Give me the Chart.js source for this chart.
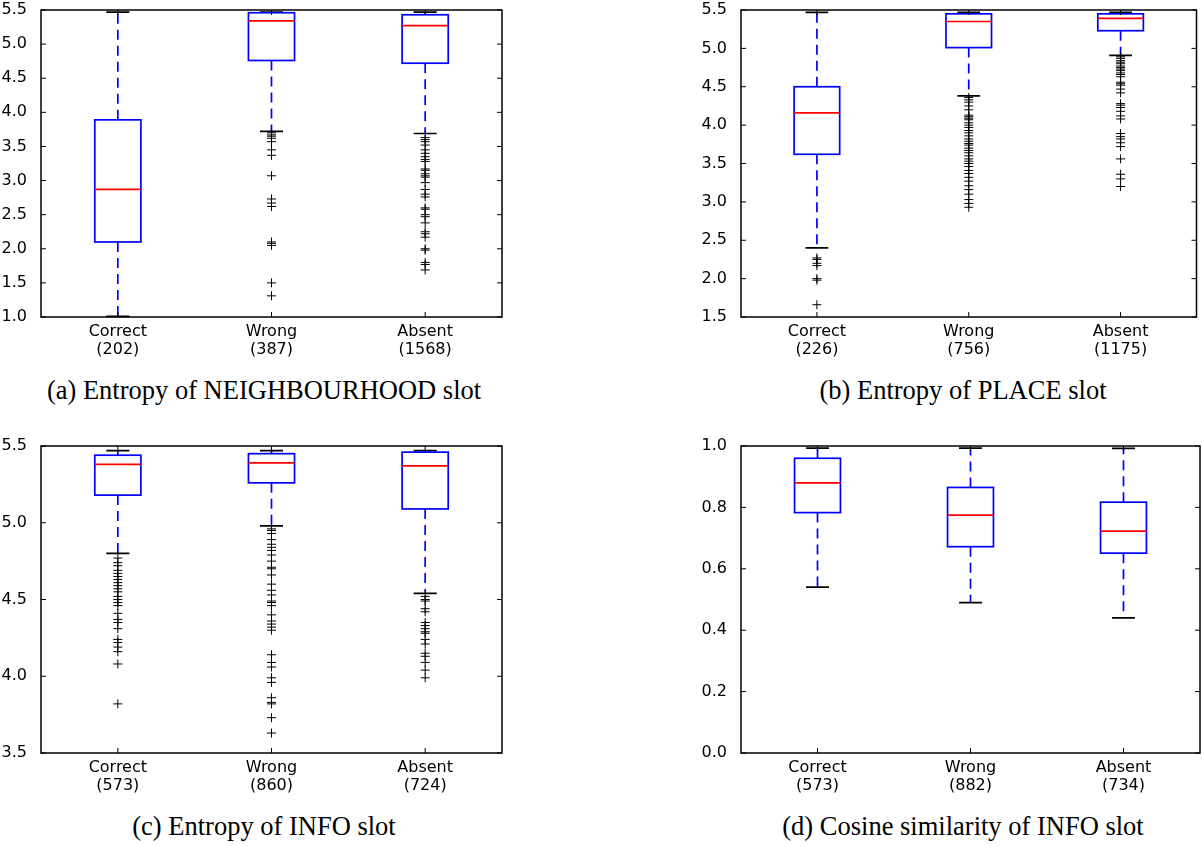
<!DOCTYPE html>
<html>
<head>
<meta charset="utf-8">
<script src="https://cdn.jsdelivr.net/npm/chart.js@4.4.1/dist/chart.umd.min.js"></script>
<style>
    body { margin: 0; background: #fff; }
    #page { position: relative; width: 1202px; height: 846px; overflow: hidden; }
    .panel { position: absolute; }
    .caption {
        position: absolute;
        width: 600px;
        text-align: center;
        font-family: "Liberation Serif", "DejaVu Serif", serif;
        font-size: 26.5px;
        line-height: 30px;
        color: #000;
        white-space: nowrap;
    }
</style>
</head>
<body>
<div id="page">
    <div class="panel" style="left:0px;top:0px;width:590px;height:372px;"><canvas id="chartA"></canvas></div>
    <div class="panel" style="left:600px;top:0px;width:602px;height:372px;"><canvas id="chartB"></canvas></div>
    <div class="panel" style="left:0px;top:436px;width:590px;height:372px;"><canvas id="chartC"></canvas></div>
    <div class="panel" style="left:600px;top:436px;width:602px;height:372px;"><canvas id="chartD"></canvas></div>
    <div class="caption" style="left:-36px;top:375px;">(a) Entropy of NEIGHBOURHOOD slot</div>
    <div class="caption" style="left:663px;top:375px;">(b) Entropy of PLACE slot</div>
    <div class="caption" style="left:-36px;top:811px;">(c) Entropy of INFO slot</div>
    <div class="caption" style="left:663px;top:811px;">(d) Cosine similarity of INFO slot</div>
</div>
<script>
const categories = ['Correct', 'Wrong', 'Absent'];

// (a) Entropy of NEIGHBOURHOOD slot
const nbCounts = [202, 387, 1568];
const nbLow = [1.01, 3.72, 3.69];
const nbQ1 = [2.10, 4.76, 4.72];
const nbMed = [2.87, 5.34, 5.27];
const nbQ3 = [3.89, 5.46, 5.43];
const nbHigh = [5.47, 5.47, 5.47];
const nbOutCorrect = [];
const nbOutWrong = [3.70, 3.67, 3.65, 3.62, 3.57, 3.45, 3.37, 3.07, 2.73, 2.67, 2.62, 2.10, 2.08, 2.05, 1.50, 1.31];
const nbOutAbsent = [3.63, 3.60, 3.57, 3.52, 3.45, 3.40, 3.35, 3.31, 3.28, 3.17, 3.15, 3.10, 3.07, 3.05, 2.97, 2.87,
    2.80, 2.76, 2.60, 2.58, 2.50, 2.47, 2.38, 2.25, 2.22, 2.17, 2.00, 1.98, 1.80, 1.77, 1.69];

// (b) Entropy of PLACE slot
const plCounts = [226, 756, 1175];
const plLow = [2.40, 4.38, 4.91];
const plQ1 = [3.62, 5.01, 5.23];
const plMed = [4.16, 5.35, 5.39];
const plQ3 = [4.50, 5.45, 5.45];
const plHigh = [5.47, 5.47, 5.47];
const plOutCorrect = [2.27, 2.25, 2.20, 2.17, 2.00, 1.98, 1.66];
const plOutWrong = [4.36, 4.33, 4.30, 4.25, 4.20, 4.13, 4.11, 4.09, 4.07, 4.03, 4.00, 3.97, 3.93, 3.90, 3.86, 3.82,
    3.79, 3.76, 3.74, 3.70, 3.67, 3.64, 3.60, 3.56, 3.53, 3.50, 3.46, 3.41, 3.37, 3.32, 3.27, 3.21, 3.16, 3.10,
    3.03, 2.98, 2.93];
const plOutAbsent = [4.89, 4.87, 4.84, 4.82, 4.80, 4.77, 4.75, 4.73, 4.71, 4.68, 4.66, 4.63, 4.56, 4.54, 4.52, 4.47,
    4.42, 4.28, 4.26, 4.23, 4.18, 4.12, 4.08, 3.89, 3.85, 3.82, 3.77, 3.72, 3.56, 3.36, 3.30, 3.20];

// (c) Entropy of INFO slot
const infCounts = [573, 860, 724];
const infLow = [4.80, 4.98, 4.54];
const infQ1 = [5.18, 5.26, 5.09];
const infMed = [5.38, 5.39, 5.37];
const infQ3 = [5.44, 5.45, 5.46];
const infHigh = [5.47, 5.47, 5.47];
const infOutCorrect = [4.77, 4.74, 4.72, 4.69, 4.67, 4.65, 4.63, 4.61, 4.59, 4.57, 4.55, 4.52, 4.50, 4.48, 4.46,
    4.41, 4.37, 4.35, 4.31, 4.24, 4.22, 4.19, 4.16, 4.08, 3.82];
const infOutWrong = [4.96, 4.95, 4.93, 4.89, 4.86, 4.84, 4.82, 4.79, 4.75, 4.71, 4.70, 4.66, 4.60, 4.56, 4.53, 4.49,
    4.48, 4.46, 4.40, 4.36, 4.34, 4.32, 4.30, 4.14, 4.09, 4.06, 3.99, 3.96, 3.86, 3.83, 3.82, 3.73, 3.63];
const infOutAbsent = [4.52, 4.50, 4.49, 4.44, 4.42, 4.35, 4.33, 4.31, 4.29, 4.28, 4.24, 4.21, 4.15, 4.13, 4.09,
    4.04, 3.99];

// (d) Cosine similarity of INFO slot
const cosCounts = [573, 882, 734];
const cosLow = [0.54, 0.49, 0.44];
const cosQ1 = [0.783, 0.672, 0.651];
const cosMed = [0.880, 0.775, 0.723];
const cosQ3 = [0.960, 0.865, 0.817];
const cosHigh = [0.993, 0.993, 0.992];

Chart.defaults.font.family = 'DejaVu Sans';
Chart.defaults.font.size = 16;
Chart.defaults.color = '#000';

// draws boxes, whiskers and caps with the chart's own scales, plus a matplotlib style frame
const boxPlugin = {
    id: 'boxes',
    beforeDatasetsDraw(chart, args, opts) {
        const ctx = chart.ctx;
        const x = chart.scales.x;
        const y = chart.scales.y;
        const half = x.getPixelForValue(1.15) - x.getPixelForValue(1);
        ctx.save();
        ctx.lineWidth = 1.7;
        opts.med.forEach(function(m, i) {
            const cx = x.getPixelForValue(i + 1);
            const yLow = y.getPixelForValue(opts.low[i]);
            const yQ1 = y.getPixelForValue(opts.q1[i]);
            const yMed = y.getPixelForValue(m);
            const yQ3 = y.getPixelForValue(opts.q3[i]);
            const yHigh = y.getPixelForValue(opts.high[i]);

            // whiskers
            ctx.strokeStyle = '#0000ff';
            ctx.setLineDash([10, 6]);
            ctx.beginPath();
            ctx.moveTo(cx, yQ1); ctx.lineTo(cx, yLow);
            ctx.moveTo(cx, yQ3); ctx.lineTo(cx, yHigh);
            ctx.stroke();
            ctx.setLineDash([]);

            // caps
            ctx.strokeStyle = '#000';
            ctx.beginPath();
            ctx.moveTo(cx - half / 2, yLow); ctx.lineTo(cx + half / 2, yLow);
            ctx.moveTo(cx - half / 2, yHigh); ctx.lineTo(cx + half / 2, yHigh);
            ctx.stroke();

            // box
            ctx.strokeStyle = '#0000ff';
            ctx.strokeRect(cx - half, yQ3, half * 2, yQ1 - yQ3);

            // median
            ctx.strokeStyle = '#ff0000';
            ctx.beginPath();
            ctx.moveTo(cx - half, yMed); ctx.lineTo(cx + half, yMed);
            ctx.stroke();
        });
        ctx.restore();
    },
    afterDraw(chart) {
        const ctx = chart.ctx;
        const area = chart.chartArea;
        const x = chart.scales.x;
        const y = chart.scales.y;
        ctx.save();
        ctx.strokeStyle = '#000';
        ctx.lineWidth = 1.5;
        ctx.strokeRect(area.left, area.top, area.right - area.left, area.bottom - area.top);
        ctx.lineWidth = 1;
        ctx.beginPath();
        y.ticks.forEach(function(t) {
            const py = y.getPixelForValue(t.value);
            ctx.moveTo(area.left, py); ctx.lineTo(area.left + 5, py);
            ctx.moveTo(area.right, py); ctx.lineTo(area.right - 5, py);
        });
        x.ticks.forEach(function(t) {
            const px = x.getPixelForValue(t.value);
            ctx.moveTo(px, area.bottom); ctx.lineTo(px, area.bottom - 5);
            ctx.moveTo(px, area.top); ctx.lineTo(px, area.top + 5);
        });
        ctx.stroke();
        ctx.restore();
    }
};

function outlierPoints(lists) {
    const pts = [];
    lists.forEach(function(list, i) {
        list.forEach(function(v) { pts.push({x: i + 1, y: v}); });
    });
    return pts;
}

function makeBoxChart(id, padLeft, padRight, counts, stats, outliers, yMin, yMax, yStep) {
    const ctx = document.getElementById(id).getContext('2d');
    return new Chart(ctx, {
        type: 'scatter',
        data: {
            datasets: [{
                data: outlierPoints(outliers),
                pointStyle: 'cross',
                pointRadius: 4.5,
                borderColor: '#000',
                backgroundColor: '#000',
                borderWidth: 1
            }]
        },
        options: {
            responsive: true,
            maintainAspectRatio: false,
            animation: false,
            events: [],
            layout: { padding: { left: padLeft, right: padRight, top: 10, bottom: 0 } },
            plugins: {
                legend: { display: false },
                tooltip: { enabled: false },
                boxes: stats
            },
            scales: {
                x: {
                    type: 'linear',
                    min: 0.5,
                    max: 3.5,
                    grid: { display: false },
                    border: { display: false },
                    afterBuildTicks: function(scale) {
                        scale.ticks = categories.map(function(c, i) { return {value: i + 1}; });
                    },
                    afterFit: function(scale) {
                        scale.height = 55;
                        scale.paddingLeft = 0;
                        scale.paddingRight = 0;
                    },
                    ticks: {
                        padding: -2,
                        maxRotation: 0,
                        autoSkip: false,
                        font: { lineHeight: 1.125 },
                        callback: function(v) {
                            const i = v - 1;
                            return [categories[i], '(' + counts[i] + ')'];
                        }
                    }
                },
                y: {
                    min: yMin,
                    max: yMax,
                    grid: { display: false },
                    border: { display: false },
                    afterFit: function(scale) {
                        scale.width = 41;
                        scale.paddingTop = 0;
                        scale.paddingBottom = 0;
                    },
                    ticks: {
                        stepSize: yStep,
                        padding: 6,
                        callback: function(v) { return v.toFixed(1); }
                    }
                }
            }
        },
        plugins: [boxPlugin]
    });
}

makeBoxChart('chartA', 0, 88, nbCounts,
    { low: nbLow, q1: nbQ1, med: nbMed, q3: nbQ3, high: nbHigh },
    [nbOutCorrect, nbOutWrong, nbOutAbsent], 1.0, 5.5, 0.5);

makeBoxChart('chartB', 100, 2, plCounts,
    { low: plLow, q1: plQ1, med: plMed, q3: plQ3, high: plHigh },
    [plOutCorrect, plOutWrong, plOutAbsent], 1.5, 5.5, 0.5);

makeBoxChart('chartC', 0, 88, infCounts,
    { low: infLow, q1: infQ1, med: infMed, q3: infQ3, high: infHigh },
    [infOutCorrect, infOutWrong, infOutAbsent], 3.5, 5.5, 0.5);

makeBoxChart('chartD', 100, 2, cosCounts,
    { low: cosLow, q1: cosQ1, med: cosMed, q3: cosQ3, high: cosHigh },
    [[], [], []], 0.0, 1.0, 0.2);
</script>
</body>
</html>
